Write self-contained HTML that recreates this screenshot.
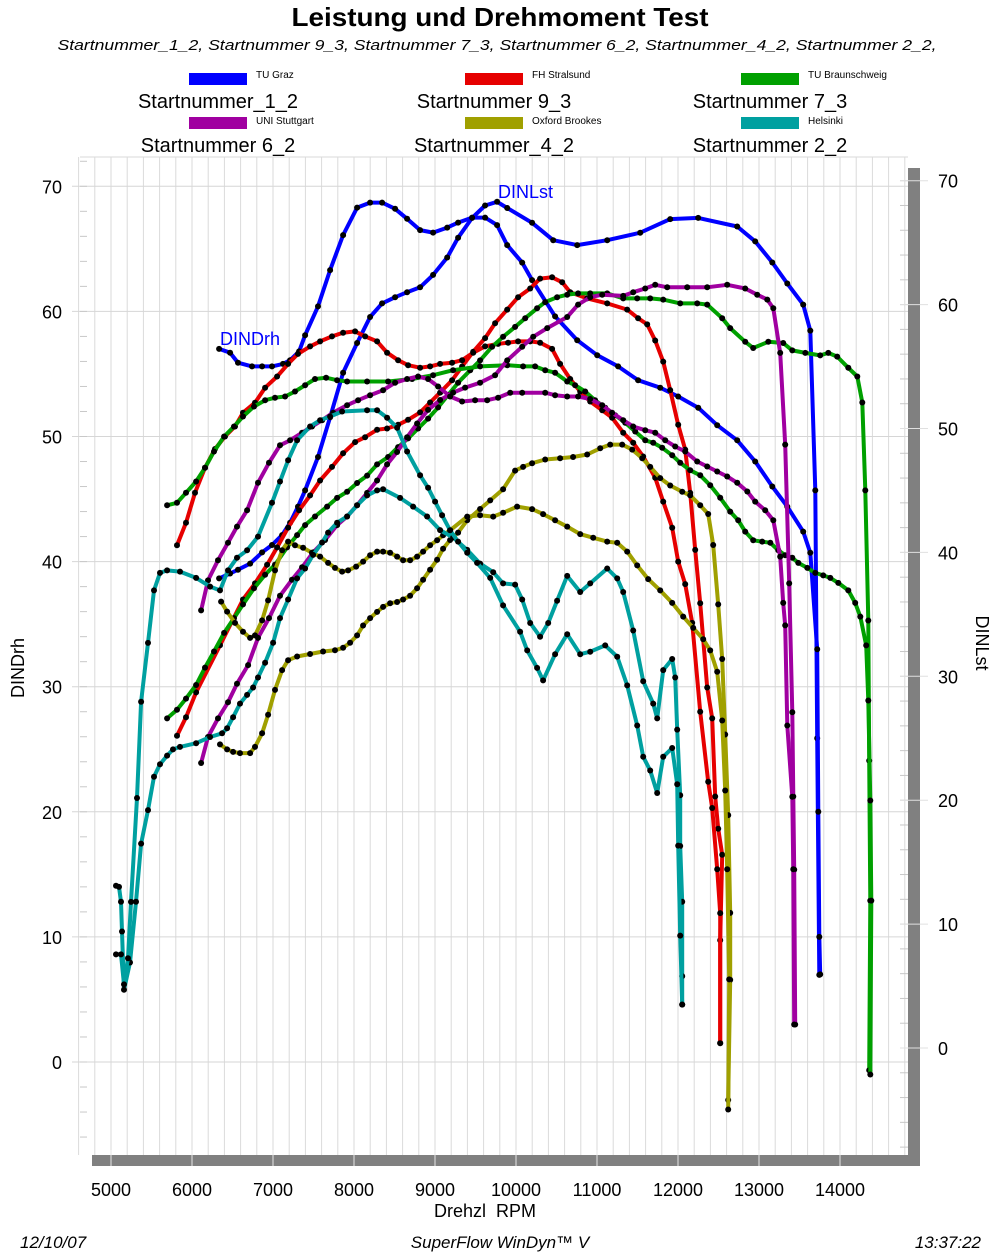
<!DOCTYPE html>
<html><head><meta charset="utf-8"><title>Leistung und Drehmoment Test</title>
<style>
html,body{margin:0;padding:0;background:#fff;}
svg{display:block;font-family:"Liberation Sans",Arial,sans-serif;}
</style></head>
<body>
<svg id="chart" width="1000" height="1252" viewBox="0 0 1000 1252">
<text x="500" y="26" text-anchor="middle" font-size="26" font-weight="bold" textLength="417" lengthAdjust="spacingAndGlyphs">Leistung und Drehmoment Test</text>
<text x="497" y="50" text-anchor="middle" font-size="15" font-style="italic" textLength="879" lengthAdjust="spacingAndGlyphs">Startnummer_1_2, Startnummer 9_3, Startnummer 7_3, Startnummer 6_2, Startnummer_4_2, Startnummer 2_2,</text>
<g id="legend"></g>
<g id="grid"></g>
<g id="axes"></g>
<g id="series"></g>
<text x="220" y="345" font-size="18" fill="#0000ff">DINDrh</text>
<text x="498" y="198" font-size="18" fill="#0000ff">DINLst</text>
<text transform="translate(24,668) rotate(-90)" text-anchor="middle" font-size="18">DINDrh</text>
<text transform="translate(976,643) rotate(90)" text-anchor="middle" font-size="18">DINLst</text>
<text x="485" y="1217" text-anchor="middle" font-size="18" xml:space="preserve">Drehzl  RPM</text>
<text x="20" y="1248" font-size="17" font-style="italic">12/10/07</text>
<text x="500" y="1248" text-anchor="middle" font-size="17" font-style="italic">SuperFlow WinDyn™ V</text>
<text x="981" y="1248" text-anchor="end" font-size="17" font-style="italic">13:37:22</text>
</svg>
<script>
const NS="http://www.w3.org/2000/svg";
// ---- data ----
const teams=["TU Graz","FH Stralsund","TU Braunschweig","UNI Stuttgart","Oxford Brookes","Helsinki"];
const runs=["Startnummer_1_2","Startnummer 9_3","Startnummer 7_3","Startnummer 6_2","Startnummer_4_2","Startnummer 2_2"];
const colors=["#0000ff","#e60000","#00a000","#a000a0","#a0a000","#00a0a0"];
const xTicks=[5000,6000,7000,8000,9000,10000,11000,12000,13000,14000];
const leftTicks=[0,10,20,30,40,50,60,70];
const rightTicks=[0,10,20,30,40,50,60,70];

const grazTqRpm=[6334,6470,6568,6741,6865,6988,7124,7211,7322,7396,7556,7705,7865,8038,8199,8347,8507,8656,8816,8977,9150,9285,9458,9619,9767,9891,10076,10199,10483,10755,11002,11261,11508,11780,12002,12249,12484,12731,12953,13164,13349,13546,13633,13719,13732,13744,13756];
const grazTq=[57.0,56.7,55.9,55.6,55.6,55.6,55.8,56.1,56.8,58.1,60.4,63.3,66.1,68.3,68.7,68.7,68.2,67.4,66.5,66.3,66.7,67.1,67.5,67.5,66.9,65.3,63.9,62.5,59.6,57.7,56.5,55.6,54.5,53.9,53.2,52.3,50.9,49.7,48.0,46.0,44.4,42.4,40.7,33,20,10,7.0];
const grazPwRpm=[6334,6470,6568,6717,6865,6988,7112,7211,7309,7396,7556,7705,7865,8038,8199,8347,8507,8656,8816,8977,9150,9285,9458,9619,9767,9891,10199,10459,10755,11126,11533,11904,12249,12731,12953,13164,13349,13546,13633,13695,13719,13744];
const grazPw=[37.9,38.3,38.6,39.1,40.0,40.6,41.4,42.4,43.7,45.0,47.7,50.9,54.5,56.9,59.0,60.1,60.6,61.0,61.4,62.4,63.8,65.4,67.0,68.0,68.3,67.8,66.6,65.2,64.8,65.2,65.8,66.9,67.0,66.3,65.1,63.4,61.7,60.0,57.9,45,25,5.9];

const strTqRpm=[5815,5926,6037,6161,6284,6408,6531,6630,6778,6902,7050,7186,7309,7458,7581,7729,7865,8013,8137,8285,8409,8545,8668,8816,8940,9063,9211,9335,9471,9619,9779,9903,10026,10175,10298,10446,10545,10669,10792,10916,11064,11187,11323,11447,11570,11718,11817,11928,12002,12089,12175,12274,12373,12422,12484,12521,12521];
const strTq=[41.3,43.1,45.5,47.5,49.0,50.0,50.8,51.9,52.7,53.9,54.8,55.8,56.6,57.2,57.6,58.0,58.3,58.4,58.0,57.6,56.7,56.1,55.7,55.5,55.6,55.8,55.9,56.1,56.7,57.2,57.4,57.5,57.6,57.6,57.5,57.0,55.8,54.6,53.6,52.8,52.1,51.5,50.3,49.5,48.4,46.7,44.8,42.7,40.0,38.2,35.1,28.0,22.4,20.3,15.4,11.9,1.5];
const strPwRpm=[5815,5926,6050,6346,6630,6778,6927,7050,7186,7322,7458,7581,7729,7865,8013,8137,8285,8409,8545,8668,8816,8940,9063,9211,9335,9471,9619,9742,9891,10026,10175,10298,10446,10570,10669,10879,11126,11373,11508,11620,11718,11817,11904,12002,12089,12151,12212,12274,12361,12422,12459,12496,12546,12521,12521];
const strPw=[25.2,26.7,28.7,32.5,36.2,37.5,39.0,40.4,42.0,43.4,44.6,45.8,46.9,48.0,48.9,49.3,49.9,50.0,50.3,50.7,51.3,52.1,52.9,53.9,55.0,56.2,57.3,58.5,59.6,60.6,61.3,62.1,62.2,61.8,61.0,60.5,60.1,59.6,58.9,58.4,57.1,55.4,53.1,50.3,48.3,44.8,40.2,35.9,29.1,26.6,20.3,17.7,15.6,8.7,0.4];

const brTqRpm=[5692,5815,5926,6050,6161,6272,6396,6519,6630,6766,6902,7025,7149,7272,7396,7519,7655,7791,7915,8162,8421,8717,8977,9224,9557,9891,10088,10236,10360,10483,10632,10730,10854,10977,11101,11224,11348,11471,11595,11694,11805,11928,12027,12151,12274,12398,12521,12645,12743,12830,12929,13040,13139,13238,13324,13411,13485,13596,13695,13793,13880,13979,14102,14188,14251,14324,14349,14374,14386,14374];
const brTq=[44.5,44.7,45.5,46.4,47.5,48.8,50.0,50.8,51.6,52.4,52.9,53.1,53.2,53.6,54.1,54.6,54.7,54.5,54.4,54.4,54.4,54.6,54.9,55.3,55.6,55.7,55.6,55.6,55.3,55.1,54.4,54.1,53.6,52.9,52.3,51.7,51.1,50.4,49.7,49.5,49.1,48.5,47.9,47.3,46.9,46.1,45.1,44.0,43.3,42.4,41.7,41.6,41.5,40.9,40.5,40.3,39.9,39.5,39.1,38.9,38.7,38.3,37.7,36.7,35.6,33.3,28.9,20.9,12.9,-1.0];
const brPwRpm=[5692,5815,5926,6050,6161,6272,6396,6519,6630,6766,6902,7025,7174,7297,7396,7519,7668,7791,7915,8038,8162,8285,8421,8545,8668,8791,8915,9038,9162,9285,9434,9557,9705,9841,9989,10113,10261,10360,10508,10632,10767,10916,11126,11323,11496,11657,11817,12027,12237,12361,12546,12645,12830,12929,13115,13299,13411,13571,13756,13855,13966,14102,14213,14275,14312,14349,14361,14374,14361];
const brPw=[26.6,27.3,28.2,29.3,30.7,32.0,33.5,34.7,35.8,37.1,38.2,39.0,40.4,41.4,42.2,42.9,43.7,44.4,44.9,45.6,46.2,47.1,47.7,48.5,49.2,50.0,50.8,51.7,52.7,53.7,54.7,55.5,56.6,57.4,58.2,58.9,59.7,60.2,60.6,60.8,60.9,60.9,60.9,60.5,60.5,60.5,60.4,60.1,60.1,60.0,58.9,58.1,57.0,56.5,57.0,56.9,56.3,56.1,55.9,56.1,55.8,54.9,54.2,52.1,45.0,34.5,23.2,11.9,-1.8];

const stTqRpm=[6112,6198,6321,6445,6556,6680,6815,6951,7087,7211,7359,7482,7606,7742,7915,8050,8199,8359,8507,8656,8791,8915,9038,9187,9335,9495,9644,9779,9928,10076,10360,10483,10632,10767,10916,11064,11187,11323,11447,11595,11718,11842,11966,12089,12237,12361,12484,12608,12731,12855,12953,13077,13176,13262,13299,13324,13349,13411,13423,13435];
const stTq=[36.1,38.5,40.1,41.5,42.8,44.1,46.3,47.9,49.3,49.7,50.3,50.8,51.3,51.9,52.5,52.9,53.3,53.7,54.3,54.6,54.8,54.6,54.0,53.2,52.8,52.9,52.9,53.1,53.5,53.5,53.5,53.3,53.2,53.2,53.0,52.5,51.9,51.3,50.8,50.5,50.3,49.7,49.2,48.8,48.0,47.6,47.2,46.8,46.3,45.6,44.8,44.1,43.3,40.4,36.7,34.9,26.9,21.2,15.4,3.0];
const stPwRpm=[6112,6198,6321,6445,6556,6692,6815,6951,7087,7235,7359,7495,7643,7791,7915,8038,8162,8285,8409,8532,8656,8779,8915,9063,9224,9372,9557,9742,9891,10076,10212,10385,10632,10767,10916,11064,11323,11447,11595,11718,11867,12114,12361,12608,12830,12978,13102,13176,13262,13324,13373,13411,13423,13435,13447];
const stPw=[23.0,25.1,26.6,27.9,29.4,30.9,33.1,34.7,36.5,37.8,38.8,40.0,41.0,42.2,42.9,43.8,44.8,45.8,47.1,48.1,49.3,50.4,51.5,52.3,52.9,53.3,53.7,54.3,55.5,56.6,57.4,58.1,59.0,60.0,60.6,60.8,60.7,61.0,61.3,61.6,61.4,61.4,61.4,61.6,61.3,60.8,60.4,59.7,56.1,48.7,37.5,27.1,20.3,14.4,1.9];

const oxTqRpm=[6359,6433,6531,6630,6717,6778,6865,6939,7025,7112,7186,7272,7371,7482,7581,7680,7766,7853,7927,8026,8112,8199,8285,8359,8446,8532,8606,8693,8779,8853,8940,9026,9100,9187,9397,9557,9718,9841,10014,10199,10335,10483,10632,10792,10953,11126,11249,11373,11496,11632,11780,11928,12064,12188,12311,12398,12484,12546,12583,12608,12632,12620];
const oxTq=[36.8,36.0,35.1,34.4,33.9,34.1,35.3,36.9,39.3,40.9,41.6,41.3,41.1,40.7,40.4,39.9,39.5,39.2,39.3,39.6,40.0,40.5,40.8,40.8,40.7,40.4,40.1,40.1,40.4,40.8,41.3,41.7,42.1,42.5,43.6,43.7,43.6,43.9,44.4,44.2,43.8,43.3,42.8,42.2,41.9,41.6,41.5,40.8,39.7,38.6,37.7,36.7,35.6,34.7,33.8,32.9,31.2,27.3,21.7,15.4,6.6,-3.8];
const oxPwRpm=[6346,6433,6507,6593,6717,6778,6865,6939,7025,7112,7186,7297,7458,7618,7766,7865,7952,8038,8112,8199,8285,8359,8446,8532,8606,8693,8779,8853,8940,9026,9100,9187,9285,9397,9557,9681,9841,9989,10088,10199,10360,10545,10705,10879,11039,11163,11311,11434,11558,11657,11780,11904,12052,12151,12274,12373,12435,12496,12546,12583,12620,12645,12645,12620];
const oxPw=[24.5,24.1,23.9,23.8,23.8,24.3,25.4,26.9,28.9,30.5,31.3,31.6,31.8,32.0,32.1,32.3,32.7,33.3,34.1,34.7,35.2,35.6,35.9,36.0,36.2,36.5,37.1,37.8,38.6,39.4,40.3,41.0,41.6,42.6,43.5,44.2,45.1,46.6,46.9,47.2,47.5,47.6,47.7,47.9,48.4,48.7,48.7,48.3,47.6,46.9,46.0,45.4,44.9,44.6,43.8,43.1,40.6,35.8,31.4,25.3,18.8,10.9,5.5,-4.2];

const heTqRpm=[5062,5124,5161,5210,5247,5321,5371,5457,5531,5605,5692,5852,6050,6223,6346,6445,6556,6680,6815,6988,7087,7186,7297,7458,7581,7705,7853,8162,8285,8409,8532,8656,8816,8915,9001,9088,9187,9285,9397,9520,9681,9841,10051,10138,10261,10335,10483,10632,10792,10916,11101,11249,11373,11496,11570,11657,11743,11817,11928,11990,12002,12027,12052];
const heTq=[8.6,8.6,6.2,8.3,12.8,21.1,28.8,33.5,37.7,39.1,39.3,39.2,38.7,38.0,37.7,39.3,40.3,40.9,42.0,44.7,46.4,48.1,49.7,50.8,51.3,51.6,52.0,52.1,52.1,51.5,50.7,48.8,46.9,45.9,44.8,43.7,42.5,41.6,40.7,39.9,38.7,36.5,34.4,32.9,31.5,30.5,32.6,34.2,32.6,32.8,33.3,32.4,30.1,26.9,24.4,23.3,21.5,24.4,25.1,22.2,17.3,10.1,4.6];
const hePwRpm=[5062,5099,5124,5136,5161,5235,5309,5371,5457,5531,5605,5692,5766,5852,6050,6223,6371,6433,6507,6593,6680,6754,6815,6902,7001,7087,7186,7297,7396,7495,7606,7680,7791,7915,8038,8162,8285,8359,8569,8730,8903,9063,9224,9397,9557,9718,9841,9989,10076,10175,10298,10397,10508,10632,10792,10916,11126,11249,11323,11447,11570,11694,11743,11817,11928,11966,11990,12027,12027,12052,12052,12052];
const hePw=[13.1,13.0,11.8,9.4,4.7,6.9,11.8,16.5,19.2,21.9,22.9,23.6,24.1,24.3,24.6,25.1,25.4,25.8,26.7,27.8,28.5,29.1,29.9,31.1,32.7,34.7,36.2,37.9,38.7,39.8,40.8,41.6,42.4,42.9,43.8,44.6,45.0,45.1,44.4,43.7,42.9,41.8,41.2,40.2,39.1,38.4,37.5,37.4,36.2,34.3,33.2,34.3,36.1,38.1,36.8,37.5,38.7,37.9,36.8,33.7,29.6,27.8,26.6,30.5,31.4,29.9,25.7,20.4,16.3,11.8,5.8,3.5];

// ---- scales ----
function xs(r){return 111+(r-5000)*0.081;}
function yl(v){return 1062-v*12.51;}
function yr(v){return 1048-v*12.39;}

function mk(tag,attrs,parent){const e=document.createElementNS(NS,tag);for(const k in attrs)e.setAttribute(k,attrs[k]);parent.appendChild(e);return e;}

const grid=document.getElementById('grid');
const axes=document.getElementById('axes');
let sh=mk('rect',{x:92,y:1155,width:828,height:11,fill:'#808080'},axes);


let sr=mk('rect',{x:908,y:168,width:12,height:998,fill:'#808080'},axes);


for(let r=4600;r<=14800;r+=200){
  const x=xs(r);
  const l=mk('line',{x1:x,y1:157,x2:x,y2:1155,stroke:'#dadada','stroke-width':1},grid);
  
  
}
mk('line',{x1:80,y1:157,x2:908,y2:157,stroke:'#dadada'},grid);
leftTicks.forEach(v=>{
  const y=yl(v);
  const l=mk('line',{x1:72,y1:y,x2:908,y2:y,stroke:'#d6d6d6'},grid);
  
  
  const t=mk('text',{x:62,y:y+7,'text-anchor':'end','font-size':18},axes);
  t.textContent=v;
  
  
});
for(let v=-8;v<=72;v+=2){const y=yl(v);if(y>157&&y<1155)mk('line',{x1:80,y1:y,x2:87,y2:y,stroke:'#c8c8c8'},grid);}
for(let v=-8;v<=72;v+=2){const y=yr(v);if(y>157&&y<1155)mk('line',{x1:900,y1:y,x2:908,y2:y,stroke:'#c8c8c8'},grid);}
rightTicks.forEach(v=>{
  const y=yr(v);
  mk('line',{x1:900,y1:y,x2:928,y2:y,stroke:'#e0e0e0'},axes);
  const t=mk('text',{x:938,y:y+7,'font-size':18},axes);
  t.textContent=v;
  
  
});
xTicks.forEach(r=>{
  const x=xs(r);
  mk('line',{x1:x,y1:1150,x2:x,y2:1166,stroke:'#e6e6e6'},axes);
  const t=mk('text',{x:x,y:1196,'text-anchor':'middle','font-size':18},axes);
  t.textContent=r;
  
  
});

const lg=document.getElementById('legend');
const lgX=[189,465,741];
teams.forEach((tm,i)=>{
  const col=i%3,row=Math.floor(i/3);
  const x=lgX[col],y=73+row*44;
  const sw=mk('rect',{x:x,y:y,width:58,height:12,fill:colors[i]},lg);
  
  
  const t=mk('text',{x:x+67,y:y+5+row*2,'font-size':10},lg);
  t.textContent=tm;
  
  
  const s=mk('text',{x:x+29,y:y+35,'text-anchor':'middle','font-size':20},lg);
  s.textContent=runs[i];
  
  
});

const sg=document.getElementById('series');
const seriesList=[
 [grazPwRpm,grazPw,yr,0,'graz-power'],[grazTqRpm,grazTq,yl,0,'graz-torque'],
 [strPwRpm,strPw,yr,1,'stralsund-power'],[strTqRpm,strTq,yl,1,'stralsund-torque'],
 [brPwRpm,brPw,yr,2,'braunschweig-power'],[brTqRpm,brTq,yl,2,'braunschweig-torque'],
 [stPwRpm,stPw,yr,3,'stuttgart-power'],[stTqRpm,stTq,yl,3,'stuttgart-torque'],
 [oxPwRpm,oxPw,yr,4,'oxford-power'],[oxTqRpm,oxTq,yl,4,'oxford-torque'],
 [hePwRpm,hePw,yr,5,'helsinki-power'],[heTqRpm,heTq,yl,5,'helsinki-torque']
];
seriesList.forEach(s=>{
  const [rx,vals,yf,ci,name]=s;
  const g=mk('g',{},sg);
  
  
  const pts=rx.map((r,i)=>xs(r).toFixed(1)+','+yf(vals[i]).toFixed(1)).join(' ');
  const pl=mk('polyline',{points:pts,fill:'none',stroke:colors[ci],'stroke-width':4,'stroke-linejoin':'round','stroke-linecap':'round'},g);
  
  
  rx.forEach((r,i)=>{
    const c=mk('circle',{cx:xs(r).toFixed(1),cy:yf(vals[i]).toFixed(1),r:3,fill:'#000'},g);
    
    
  });
});
</script>
</body></html>
